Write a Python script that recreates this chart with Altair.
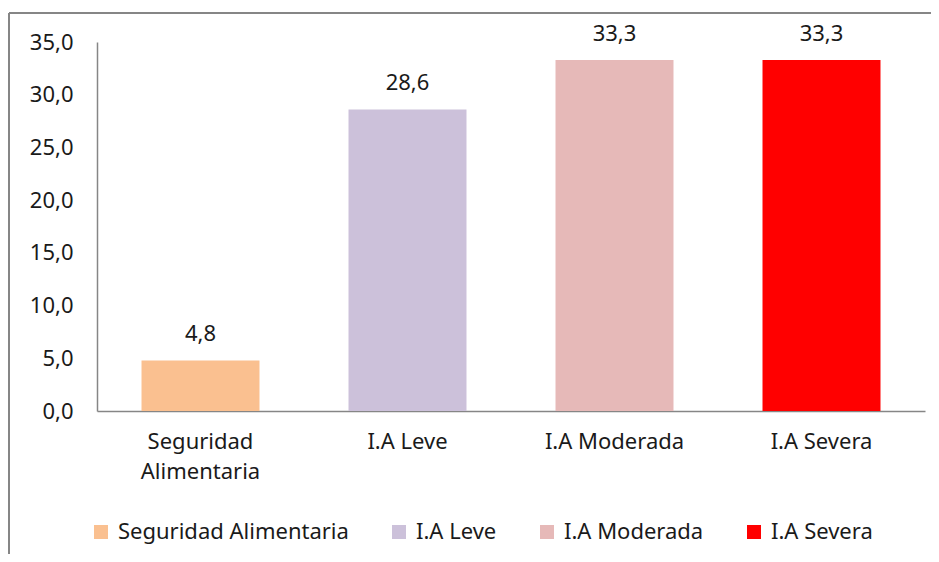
import altair as alt
import pandas as pd

categories = ["Seguridad Alimentaria", "I.A Leve", "I.A Moderada", "I.A Severa"]
values = [4.8, 28.6, 33.3, 33.3]
colors = ["#FAC090", "#CCC1DA", "#E6B9B8", "#FF0000"]
y_ticks = [0, 5, 10, 15, 20, 25, 30, 35]

df = pd.DataFrame({"cat": categories, "val": values})
df["label"] = [f"{v:.1f}".replace(".", ",") for v in values]

FONT = "Noto Sans"
FS = 22
TXT = "#1a1a1a"
AX = "#868686"

x = alt.X(
    "cat:N", sort=categories,
    scale=alt.Scale(paddingInner=0.43, paddingOuter=0.215),
    axis=alt.Axis(
        title=None, labelAngle=0, ticks=False, domainColor=AX, domainWidth=1.5,
        labelPadding=20, labelFontSize=FS, labelLineHeight=30, labelFont=FONT,
        labelColor=TXT, labelBaseline="top", labelLimit=400,
        labelExpr="datum.value == 'Seguridad Alimentaria' ? ['Seguridad', 'Alimentaria'] : datum.value",
    ),
)
y = alt.Y(
    "val:Q", scale=alt.Scale(domain=[0, 35], nice=False),
    axis=alt.Axis(
        title=None, values=y_ticks, grid=False, ticks=False, domainColor=AX, domainWidth=1.5,
        labelPadding=24, labelFontSize=FS, labelFont=FONT, labelColor=TXT,
        labelExpr="replace(format(datum.value, '.1f'), '.', ',')",
    ),
)

bars = alt.Chart(df).mark_bar(strokeWidth=0).encode(
    x=x, y=y,
    color=alt.Color(
        "cat:N", sort=categories,
        scale=alt.Scale(domain=categories, range=colors),
        legend=alt.Legend(
            orient="none", legendX=-7, legendY=479, direction="horizontal", title=None,
            symbolType="square", symbolSize=196, symbolStrokeWidth=0, labelFontSize=FS,
            labelFont=FONT, labelColor=TXT, columnPadding=39, labelOffset=6, padding=0,
            labelLimit=400,
        ),
    ),
)

labels = alt.Chart(df).mark_text(
    baseline="bottom", dy=-14, fontSize=FS, font=FONT, color=TXT
).encode(x=alt.X("cat:N", sort=categories), y="val:Q", text="label:N")

frame_df = pd.DataFrame({"a": [0]})
left_line = alt.Chart(frame_df).mark_rule(color=AX, strokeWidth=2).encode(
    x=alt.value(-88), y=alt.value(-29), y2=alt.value(700)
)
top_line = alt.Chart(frame_df).mark_rule(color=AX, strokeWidth=2).encode(
    x=alt.value(-88), x2=alt.value(1000), y=alt.value(-29)
)

chart = alt.layer(bars, labels, left_line, top_line).properties(
    width=828, height=369,
    autosize=alt.AutoSizeParams(type="none"),
    padding={"left": 89, "top": 34, "right": 6, "bottom": 143},
).configure_view(stroke=None)

chart.save("out.html", embed_options={"renderer": "svg", "actions": False})
